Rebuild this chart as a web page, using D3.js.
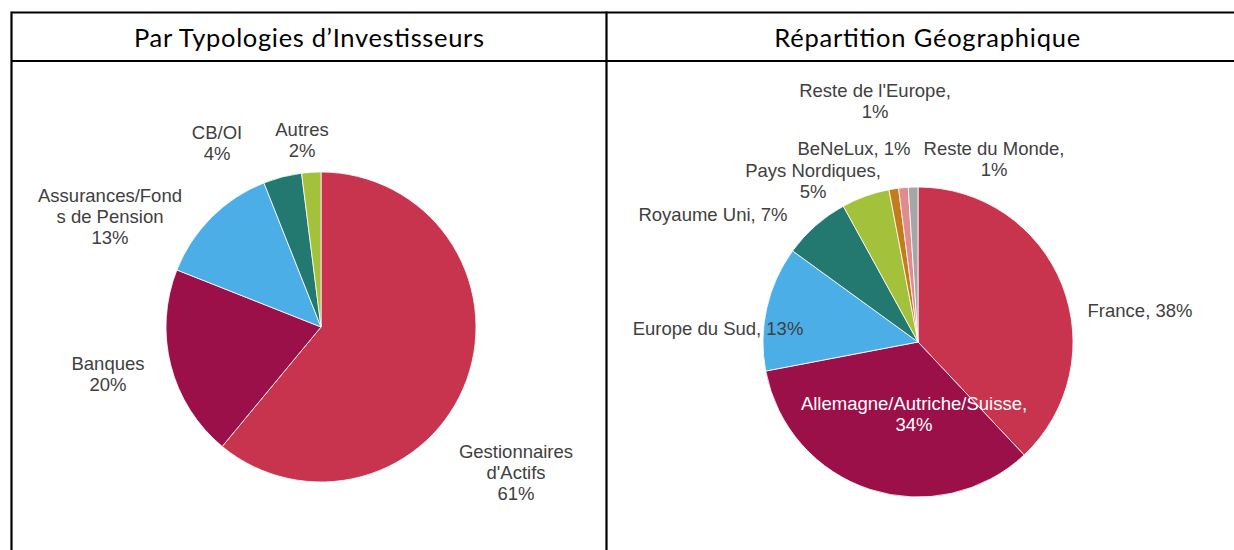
<!DOCTYPE html>
<html><head><meta charset="utf-8">
<script src="https://cdn.jsdelivr.net/npm/d3@7"></script>
<style>
html,body{margin:0;padding:0;background:#fff;overflow:hidden;}
svg{display:block;}
</style></head>
<body>
<svg id="chart" width="1234" height="550"></svg>
<script>
// ---- Data ----
const titles = ["Par Typologies d\u2019Investisseurs", "Répartition Géographique"];

const investorCategories = ["Gestionnaires d'Actifs", "Banques", "Assurances/Fonds de Pension", "CB/OI", "Autres"];
const investorValues = [61, 20, 13, 4, 2];
const investorColors = ["#C8344E", "#9C104A", "#4BAEE7", "#23786F", "#A3C13B"];
// label lines: {v} is replaced by the value
const investorLabelLines = [
  ["Gestionnaires", "d'Actifs", "{v}%"],
  ["Banques", "{v}%"],
  ["Assurances/Fond", "s de Pension", "{v}%"],
  ["CB/OI", "{v}%"],
  ["Autres", "{v}%"]
];

const geoCategories = ["France", "Allemagne/Autriche/Suisse", "Europe du Sud", "Royaume Uni", "Pays Nordiques", "BeNeLux", "Reste de l'Europe", "Reste du Monde"];
const geoValues = [38, 34, 13, 7, 5, 1, 1, 1];
const geoColors = ["#C8344E", "#9C104A", "#4BAEE7", "#23786F", "#A3C13B", "#C27C1C", "#E08C8E", "#A6A6A6"];
const geoLabelLines = [
  ["France, {v}%"],
  ["Allemagne/Autriche/Suisse,", "{v}%"],
  ["Europe du Sud, {v}%"],
  ["Royaume Uni, {v}%"],
  ["Pays Nordiques,", "{v}%"],
  ["BeNeLux, {v}%"],
  ["Reste de l'Europe,", "{v}%"],
  ["Reste du Monde,", "{v}%"]
];

// ---- Layout (positions, not data) ----
const layout = {
  tableLeft: 11.5, tableMid: 606.5, tableRight: 1250, tableTop: 12.5, headerBottom: 61,
  titleWidths: [350, 306],
  radius: 155,
  pies: [
    { cx: 321, cy: 327,
      labelOffsets: [[195,125],[-213,37],[-211,-131],[-104,-194],[-19,-197]],
      labelFill: ["#404040","#404040","#404040","#404040","#404040"] },
    { cx: 918, cy: 342,
      labelOffsets: [[222,-31],[-4,62],[-200,-13],[-205,-127],[-105,-171],[-64,-193],[-43,-251],[76,-193]],
      labelFill: ["#404040","#ffffff","#404040","#404040","#404040","#404040","#404040","#404040"] }
  ],
  lineHeight: 21
};

const svg = d3.select("#chart");

// table lines
const g = svg.append("g").attr("stroke", "#000").attr("stroke-width", 2.2);
g.append("line").attr("x1", layout.tableLeft).attr("x2", layout.tableRight).attr("y1", layout.tableTop).attr("y2", layout.tableTop);
g.append("line").attr("x1", layout.tableLeft).attr("x2", layout.tableRight).attr("y1", layout.headerBottom).attr("y2", layout.headerBottom);
g.append("line").attr("x1", layout.tableLeft).attr("x2", layout.tableLeft).attr("y1", layout.tableTop - 1).attr("y2", 560);
g.append("line").attr("x1", layout.tableMid).attr("x2", layout.tableMid).attr("y1", layout.tableTop - 1).attr("y2", 560);

// headers
const headerX = [(layout.tableLeft + layout.tableMid) / 2, (layout.tableMid + layout.tableRight) / 2 - 1];
svg.selectAll("text.title").data(titles).join("text")
  .attr("class", "title")
  .attr("x", (d, i) => headerX[i] - layout.titleWidths[i] / 2)
  .attr("y", (layout.tableTop + layout.headerBottom) / 2 + 1)
  .attr("dy", "0.35em")
  .attr("text-anchor", "start")
  .attr("textLength", (d, i) => layout.titleWidths[i])
  .attr("lengthAdjust", "spacing")
  .attr("font-family", "Lato, 'Open Sans', sans-serif")
  .attr("font-size", 25.5)
  .attr("fill", "#000")
  .text(d => d);

const pie = d3.pie().sort(null).value(d => d.value);
const arc = d3.arc().innerRadius(0).outerRadius(layout.radius);

function drawPie(cfg, categories, values, colors, labelLines) {
  const data = categories.map((c, i) => ({ name: c, value: values[i], color: colors[i], lines: labelLines[i] }));
  const gp = svg.append("g").attr("transform", `translate(${cfg.cx},${cfg.cy})`);
  const arcs = pie(data);
  gp.selectAll("path").data(arcs).join("path")
    .attr("d", arc)
    .attr("fill", d => d.data.color)
    .attr("stroke", "#fff")
    .attr("stroke-width", 0.8)
    .attr("stroke-linejoin", "round");

  const labels = gp.selectAll("text.lbl").data(arcs).join("text")
    .attr("class", "lbl")
    .attr("text-anchor", "middle")
    .attr("font-family", "'Liberation Sans', Arial, sans-serif")
    .attr("font-size", 18.5)
    .attr("fill", (d, i) => cfg.labelFill[i])
    .attr("transform", (d, i) => `translate(${cfg.labelOffsets[i][0]},${cfg.labelOffsets[i][1]})`);
  labels.each(function (d) {
    d3.select(this).selectAll("tspan").data(d.data.lines.map(l => l.replace("{v}", d.data.value))).join("tspan")
      .attr("x", 0)
      .attr("y", (l, j) => j * layout.lineHeight)
      .attr("dy", "0.35em")
      .text(l => l);
  });
}

drawPie(layout.pies[0], investorCategories, investorValues, investorColors, investorLabelLines);
drawPie(layout.pies[1], geoCategories, geoValues, geoColors, geoLabelLines);
</script>
</body></html>
